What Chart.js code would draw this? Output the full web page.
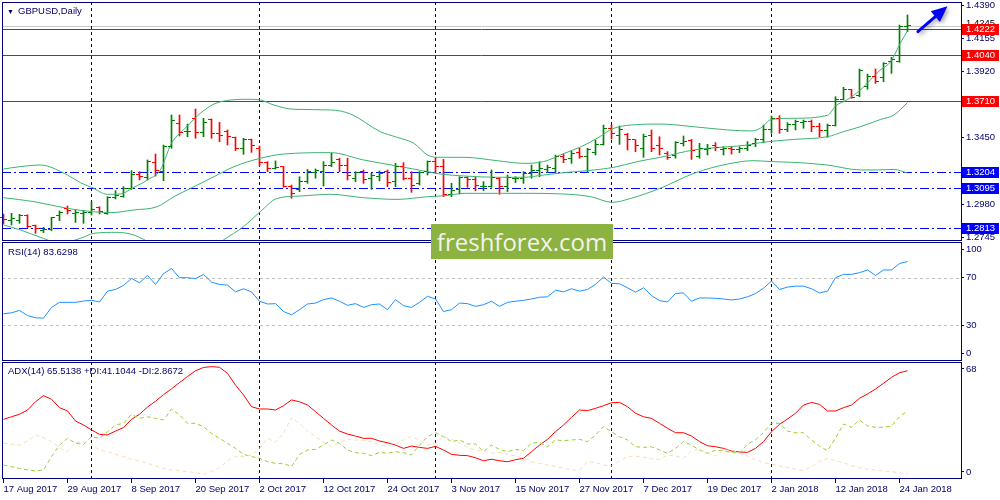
<!DOCTYPE html>
<html>
<head>
<meta charset="utf-8">
<script src="https://cdn.jsdelivr.net/npm/chart.js@4.4.0/dist/chart.umd.min.js"></script>
<style>
html, body { margin: 0; padding: 0; background: #fff; }
#wrap { position: relative; width: 1000px; height: 500px; overflow: hidden; background: #fff; }
#wrap canvas { position: absolute; left: 0; }
.lbl { position: absolute; font: 9.5px "Liberation Sans", Arial, sans-serif; color: #000070; white-space: nowrap; line-height: 11px; }
#wm { position: absolute; left: 431px; top: 224px; width: 182px; height: 35px; background: #8cb23f; color: #f2f2f2;
      font: 24px "Open Sans", sans-serif; text-align: center; line-height: 35px; }
</style>
</head>
<body>
<div id="wrap">
  <canvas id="main" width="1000" height="241" style="top:0"></canvas>
  <canvas id="rsi" width="1000" height="119" style="top:242px"></canvas>
  <canvas id="adx" width="1000" height="138" style="top:362px"></canvas>
  <div class="lbl" style="left:7px;top:6px;font-size:7px">&#9660;</div>
  <div class="lbl" style="left:18px;top:5px">GBPUSD,Daily</div>
  <div class="lbl" style="left:8px;top:246px">RSI(14) 83.6298</div>
  <div class="lbl" style="left:8px;top:365px">ADX(14) 65.5138 +DI:41.1044 -DI:2.8672</div>
  <div id="wm">freshforex.com</div>
</div>
<script>
'use strict';

// daily bars, 17 Aug 2017 .. 25 Jan 2018 (index 0..113)
const opens = [1.2886,1.2862,1.2862,1.2902,1.2824,1.2791,1.2796,1.2902,1.2945,1.2914,
  1.2914,1.2919,1.2957,1.2914,1.3028,1.3032,1.3092,1.3193,1.3170,1.3274,
  1.3210,1.3387,1.3553,1.3494,1.3584,1.3489,1.3577,1.3482,1.3494,1.3454,
  1.3376,1.3439,1.3373,1.3276,1.3234,1.3245,1.3108,1.3080,1.3139,1.3205,
  1.3210,1.3257,1.3297,1.3252,1.3163,1.3210,1.3158,1.3179,1.3210,1.3139,
  1.3245,1.3158,1.3127,1.3210,1.3281,1.3245,1.3049,1.3080,1.3167,1.3151,
  1.3103,1.3108,1.3163,1.3108,1.3158,1.3158,1.3198,1.3217,1.3226,1.3234,
  1.3316,1.3300,1.3345,1.3316,1.3345,1.3404,1.3518,1.3470,1.3475,1.3435,
  1.3376,1.3470,1.3399,1.3340,1.3328,1.3411,1.3430,1.3316,1.3369,1.3399,
  1.3364,1.3376,1.3364,1.3376,1.3411,1.3440,1.3511,1.3584,1.3506,1.3546,
  1.3558,1.3565,1.3534,1.3501,1.3541,1.3724,1.3790,1.3754,1.3818,1.3889,
  1.3880,1.3991,1.3993,1.4244];
const highs = [1.2909,1.2914,1.2907,1.2904,1.2831,1.2815,1.2886,1.2931,1.2966,1.2938,
  1.2931,1.2997,1.2961,1.3032,1.3075,1.3103,1.3217,1.3210,1.3293,1.3335,
  1.3399,1.3612,1.3612,1.3548,1.3655,1.3589,1.3584,1.3560,1.3506,1.3456,
  1.3447,1.3441,1.3392,1.3281,1.3286,1.3247,1.3115,1.3174,1.3226,1.3229,
  1.3281,1.3340,1.3305,1.3305,1.3210,1.3222,1.3198,1.3215,1.3222,1.3269,
  1.3274,1.3210,1.3210,1.3286,1.3312,1.3297,1.3127,1.3174,1.3174,1.3170,
  1.3139,1.3222,1.3167,1.3186,1.3174,1.3210,1.3257,1.3281,1.3257,1.3328,
  1.3335,1.3357,1.3376,1.3376,1.3435,1.3541,1.3541,1.3534,1.3482,1.3437,
  1.3477,1.3506,1.3458,1.3352,1.3423,1.3463,1.3439,1.3411,1.3404,1.3416,
  1.3387,1.3387,1.3387,1.3423,1.3447,1.3541,1.3605,1.3608,1.3558,1.3577,
  1.3577,1.3577,1.3553,1.3548,1.3742,1.3809,1.3795,1.3939,1.3903,1.3939,
  1.3984,1.4022,1.4251,1.4323];
const lows = [1.2838,1.2831,1.2843,1.2812,1.2772,1.2777,1.2791,1.2862,1.2909,1.2850,
  1.2843,1.2902,1.2909,1.2907,1.3016,1.3028,1.3084,1.3151,1.3151,1.3179,
  1.3146,1.3376,1.3463,1.3458,1.3447,1.3458,1.3447,1.3423,1.3399,1.3359,
  1.3333,1.3347,1.3250,1.3210,1.3229,1.3099,1.3021,1.3068,1.3127,1.3163,
  1.3108,1.3245,1.3210,1.3151,1.3139,1.3127,1.3084,1.3144,1.3103,1.3103,
  1.3151,1.3063,1.3115,1.3186,1.3198,1.3032,1.3032,1.3051,1.3099,1.3075,
  1.3075,1.3099,1.3049,1.3068,1.3132,1.3127,1.3163,1.3174,1.3203,1.3203,
  1.3274,1.3269,1.3305,1.3203,1.3328,1.3399,1.3442,1.3404,1.3364,1.3352,
  1.3312,1.3352,1.3328,1.3297,1.3305,1.3392,1.3297,1.3305,1.3328,1.3359,
  1.3328,1.3335,1.3345,1.3359,1.3387,1.3416,1.3482,1.3482,1.3494,1.3506,
  1.3518,1.3494,1.3458,1.3454,1.3534,1.3719,1.3731,1.3742,1.3795,1.3837,
  1.3849,1.3908,1.3987,1.4204];
const closes = [1.2867,1.2874,1.2897,1.2819,1.2808,1.2800,1.2881,1.2919,1.2933,1.2919,
  1.2923,1.2938,1.2926,1.3028,1.3040,1.3092,1.3193,1.3179,1.3281,1.3217,
  1.3387,1.3572,1.3489,1.3497,1.3489,1.3560,1.3482,1.3470,1.3458,1.3376,
  1.3435,1.3395,1.3276,1.3234,1.3238,1.3108,1.3056,1.3139,1.3210,1.3215,
  1.3252,1.3276,1.3252,1.3186,1.3205,1.3151,1.3186,1.3198,1.3132,1.3245,
  1.3158,1.3115,1.3203,1.3281,1.3245,1.3049,1.3075,1.3167,1.3151,1.3111,
  1.3108,1.3170,1.3103,1.3170,1.3163,1.3198,1.3217,1.3234,1.3238,1.3316,
  1.3297,1.3340,1.3316,1.3364,1.3404,1.3518,1.3482,1.3506,1.3435,1.3399,
  1.3463,1.3376,1.3376,1.3312,1.3416,1.3423,1.3359,1.3376,1.3376,1.3383,
  1.3376,1.3364,1.3371,1.3399,1.3435,1.3506,1.3584,1.3506,1.3548,1.3565,
  1.3565,1.3529,1.3501,1.3541,1.3721,1.3795,1.3735,1.3925,1.3889,1.3847,
  1.3979,1.4003,1.4244,1.4245];

// bollinger bands: [bar index, price]
const bbUpper = [[0,1.3229],[2,1.3245],[4.6,1.3257],[8,1.3186],[9.6,1.3132],[11,1.3099],[13,1.3049],[14.6,1.3051],
  [16.3,1.3099],[18,1.3151],[19.6,1.3222],[21,1.3411],[22.9,1.3529],[24.6,1.3624],[26.3,1.3690],[28.4,1.3719],
  [30.5,1.3724],[32.1,1.3719],[33.8,1.3683],[36.3,1.3653],[40.9,1.3648],[43.4,1.3619],[47.1,1.3494],[49.2,1.3454],
  [51.3,1.3411],[53,1.3328],[54.2,1.3312],[57.6,1.3312],[61.7,1.3288],[65,1.3269],[67.5,1.3281],[70.1,1.3340],
  [72.2,1.3387],[74.2,1.3447],[76.3,1.3518],[78.4,1.3541],[82.1,1.3548],[86.3,1.3529],[90.5,1.3506],[93.5,1.3499],
  [94.6,1.3518],[96,1.3581],[98.8,1.3589],[103,1.3610],[104,1.3676],[105.4,1.3719],[107.1,1.3790],[109.6,1.3932],
  [110.9,1.3991],[112.1,1.4122],[113,1.4210]];
const bbMiddle = [[0,1.3025],[3.8,1.2997],[8,1.2949],[11.1,1.2926],[13.4,1.2919],[16.3,1.2938],[19.2,1.2961],
  [21.3,1.3032],[23.8,1.3103],[26.3,1.3174],[28.8,1.3245],[32.1,1.3305],[35,1.3335],[40.9,1.3345],[45,1.3293],
  [49.2,1.3250],[53,1.3210],[54.6,1.3193],[57.6,1.3179],[61.7,1.3170],[65,1.3170],[67.5,1.3186],[70.1,1.3203],
  [73,1.3217],[76.3,1.3241],[79.2,1.3281],[82.1,1.3312],[86.3,1.3364],[90.5,1.3387],[93,1.3399],[94.6,1.3416],
  [98.8,1.3439],[103,1.3458],[105,1.3494],[107.1,1.3529],[109.6,1.3580],[111.3,1.3612],[113,1.3700]];
const bbLower = [[0,1.2831],[2.1,1.2796],[5,1.2736],[7,1.2700],[9.6,1.2736],[11.3,1.2772],[14.2,1.2779],[16.3,1.2760],
  [17.5,1.2729],[20,1.2660],[23,1.2620],[26,1.2660],[27.5,1.2725],[30,1.2819],[32.1,1.2926],[34.2,1.3020],
  [37.1,1.3037],[40.9,1.3049],[45,1.3025],[49.2,1.3013],[53,1.3032],[55.1,1.3039],[57.6,1.3056],[61.7,1.3056],
  [65,1.3056],[70.1,1.3051],[73.4,1.3032],[76.1,1.2992],[78.4,1.3020],[82.1,1.3092],[86.3,1.3198],[90.5,1.3264],
  [93.8,1.3288],[96,1.3281],[98.8,1.3276],[103,1.3257],[107.1,1.3222],[109.2,1.3222],[111.3,1.3226],[113,1.3200]];

const rsi = [39.7,40.5,42.5,38.2,36.3,36.0,45.0,49.3,49.3,49.3,50.4,51.0,49.6,58.7,60.1,63.5,69.4,65.7,72.0,64.3,
  73.4,77.7,70.0,70.0,69.2,72.8,66.3,64.3,63.8,58.1,60.7,58.1,50.2,47.9,48.2,41.6,38.8,43.1,47.9,48.7,51.6,
  53.0,50.2,46.8,48.2,45.0,47.3,47.9,43.1,51.6,46.5,45.0,49.3,54.4,52.1,41.6,43.1,48.7,48.2,45.9,47.3,
  50.2,45.9,49.3,50.2,51.0,52.1,53.6,53.9,59.5,58.1,60.7,58.7,60.1,64.3,70.6,65.2,64.9,61.5,57.8,61.5,55.0,50.7,
  49.6,56.7,57.2,50.2,53.0,53.0,52.7,52.1,51.3,52.1,53.9,56.7,61.2,67.2,60.1,62.1,62.9,62.9,60.7,57.2,
  58.7,70.0,72.8,72.8,74.2,76.5,71.9,76.5,76.5,81.9,83.6];
const adx = [36.0,37.6,39.1,41.7,46.7,50.4,48.2,43.1,41.1,35.0,32.6,29.6,26.9,26.6,28.9,31.0,36.0,39.1,43.5,47.0,
  51.0,54.5,58.3,62.0,65.5,67.5,68.0,67.6,63.9,56.8,50.8,43.7,42.3,42.3,41.7,44.3,47.8,46.7,44.7,40.7,36.6,
  32.6,28.9,27.1,25.9,24.5,24.5,22.9,21.8,20.4,18.4,19.8,19.0,18.4,19.6,17.4,14.8,14.2,14.0,12.7,10.9,
  11.8,10.9,10.3,11.5,12.4,16.4,20.4,23.9,28.5,32.6,37.2,41.7,41.3,42.7,44.3,46.1,46.3,43.7,39.7,37.6,36.6,33.6,
  30.6,27.9,27.9,25.9,22.5,20.0,19.4,18.4,16.8,16.2,16.0,18.4,22.5,28.5,33.0,36.2,39.7,44.7,46.3,45.1,
  41.1,41.1,43.1,44.7,48.8,51.4,54.4,57.9,61.5,64.3,65.5];
const plusDI = [8.3,7.3,6.3,5.3,4.7,5.3,13.4,20.4,24.5,21.5,20.8,25.5,24.5,28.5,32.6,33.6,39.1,36.6,37.6,36.6,
  35.6,42.3,38.7,33.6,33.6,31.6,27.5,24.5,21.5,18.4,14.8,13.4,12.4,10.3,9.3,9.3,7.3,14.8,17.4,17.8,20.4,
  23.5,21.5,17.4,15.8,15.4,14.0,16.0,15.4,16.4,15.8,14.4,20.4,25.5,27.9,25.5,22.5,23.5,21.1,21.1,16.4,
  20.4,17.8,16.4,17.8,17.0,21.5,22.1,19.4,23.5,23.1,23.5,23.9,22.5,26.5,31.6,28.5,25.5,23.5,19.4,19.0,19.4,17.4,
  15.4,18.4,22.5,20.4,17.4,15.4,17.4,16.8,16.0,15.4,21.1,23.5,28.1,33.6,33.6,28.9,27.9,27.9,23.5,19.8,
  17.0,24.5,33.2,31.2,35.6,32.0,31.2,31.2,32.0,37.6,41.1];
const minusDI = [21.5,21.0,20.4,22.9,26.5,24.9,22.5,18.8,16.4,22.1,22.5,20.8,17.4,16.4,14.8,13.4,11.8,10.8,9.3,7.7,
  6.3,5.3,4.7,4.3,3.7,2.7,4.3,6.7,10.8,13.4,13.4,14.4,18.4,24.5,22.1,27.5,37.0,33.6,28.9,25.5,22.5,
  19.4,22.1,23.9,23.5,23.1,22.5,20.4,19.8,21.1,23.5,25.5,23.5,20.4,21.5,25.5,23.9,21.8,19.0,17.4,17.0,
  15.4,16.0,14.8,13.8,12.4,10.3,9.3,8.3,7.3,6.3,5.3,5.3,10.3,9.9,8.3,7.7,10.9,13.4,13.8,13.0,12.0,11.7,
  14.4,13.8,12.4,17.0,17.8,15.8,13.8,17.4,17.4,15.4,13.8,11.3,9.7,8.9,7.7,6.9,5.7,4.9,7.3,10.3,
  12.4,10.9,9.7,7.9,6.7,5.7,5.3,4.7,4.3,3.6,2.9];

const dateTickIdx = [0,8,16,24,32,40,48,56,64,72,80,88,96,104,112];
const dateLabels = ['17 Aug 2017','29 Aug 2017','8 Sep 2017','20 Sep 2017','2 Oct 2017','12 Oct 2017','24 Oct 2017',
  '3 Nov 2017','15 Nov 2017','27 Nov 2017','7 Dec 2017','19 Dec 2017','2 Jan 2018','12 Jan 2018','24 Jan 2018'];
const monthStartIdx = [11,32,54,76,96];

const priceTicks = [1.4390,1.4155,1.3920,1.3685,1.3450,1.3215,1.2980,1.2745];
const redLevels = [1.4222,1.4040,1.3710];
const blueLevels = [1.3204,1.3095,1.2813];
const bidPrice = 1.4245;
const rsiTicks = [100,70,30,0];
const rsiLevels = [70,30];
const adxTicks = [68,0];
const arrowTail = [114.3,1.4205];
const arrowTip = [118.0,1.4385];

const UP = '#008000', DOWN = '#ff0000', NAVY = '#000080', TXT = '#000070';
const FONT = {family: 'Liberation Sans', size: 9.5};
const X_MIN = -0.1875, X_MAX = X_MIN + 959 / 8;

function pts(arr) { return arr.map((v, i) => ({x: i, y: v})); }
function pairs(arr) { return arr.map(p => ({x: p[0], y: p[1]})); }
function noPad(s) { s.paddingTop = 0; s.paddingBottom = 0; s.paddingLeft = 0; s.paddingRight = 0; }

// pane frame, horizontal levels and month separators
function panePlugin(levels) {
  return {
    id: 'pane',
    beforeDatasetsDraw(chart) {
      const {ctx, chartArea: a, scales: {x, y}} = chart;
      ctx.save();
      ctx.lineWidth = 1;
      levels.forEach(l => {
        const py = Math.round(y.getPixelForValue(l.value)) + 0.5;
        ctx.strokeStyle = l.stroke;
        ctx.setLineDash(l.dash || []);
        ctx.beginPath(); ctx.moveTo(a.left, py); ctx.lineTo(a.right, py); ctx.stroke();
      });
      ctx.strokeStyle = NAVY;
      ctx.setLineDash([3, 3]);
      monthStartIdx.forEach(i => {
        const px = Math.floor(x.getPixelForValue(i)) + 0.5;
        ctx.beginPath(); ctx.moveTo(px, a.top); ctx.lineTo(px, a.bottom); ctx.stroke();
      });
      ctx.restore();
    },
    afterDraw(chart) {
      const {ctx, chartArea: a} = chart;
      ctx.save();
      ctx.strokeStyle = NAVY; ctx.lineWidth = 1;
      ctx.strokeRect(a.left + 0.5, a.top + 0.5, a.right - a.left, a.bottom - a.top - 1);
      ctx.restore();
    }
  };
}

// open / close ticks of the bars, plus price tags and arrow
const pricePlugin = {
  id: 'price',
  afterDatasetsDraw(chart) {
    const {ctx, scales: {x, y}} = chart;
    ctx.save();
    opens.forEach((o, i) => {
      const px = Math.floor(x.getPixelForValue(i));
      ctx.fillStyle = closes[i] >= o ? UP : DOWN;
      ctx.fillRect(px - 3, Math.floor(y.getPixelForValue(o)), 3, 1);
      ctx.fillRect(px + 1, Math.floor(y.getPixelForValue(closes[i])), 3, 1);
    });
    ctx.restore();
  },
  afterDraw(chart) {
    const {ctx, chartArea: a, scales: {x, y}} = chart;
    ctx.save();
    ctx.font = '9.5px "Liberation Sans"';
    ctx.textBaseline = 'middle';
    ctx.fillStyle = '#000';
    ctx.fillText(bidPrice.toFixed(4), a.right + 5, Math.round(y.getPixelForValue(bidPrice)) - 3);
    const tag = (v, c) => {
      const py = Math.round(y.getPixelForValue(v));
      ctx.fillStyle = c;
      ctx.fillRect(a.right + 1, py - 5, 37, 11);
      ctx.fillStyle = '#fff';
      ctx.fillText(v.toFixed(4), a.right + 5, py + 0.5);
    };
    redLevels.forEach(v => tag(v, '#ff0000'));
    blueLevels.forEach(v => tag(v, '#0000ff'));

    const tx = x.getPixelForValue(arrowTail[0]), ty = y.getPixelForValue(arrowTail[1]);
    const hx = x.getPixelForValue(arrowTip[0]), hy = y.getPixelForValue(arrowTip[1]);
    const ang = Math.atan2(hy - ty, hx - tx);
    const L = 16, W = 7;
    const bx = hx - L * Math.cos(ang), by = hy - L * Math.sin(ang);
    ctx.shadowColor = 'rgba(0,0,0,0.35)'; ctx.shadowBlur = 4; ctx.shadowOffsetX = 2; ctx.shadowOffsetY = 2;
    ctx.strokeStyle = '#0000ff'; ctx.fillStyle = '#0000ff'; ctx.lineWidth = 3; ctx.lineCap = 'round';
    ctx.beginPath(); ctx.moveTo(tx, ty); ctx.lineTo(bx, by); ctx.stroke();
    ctx.beginPath();
    ctx.moveTo(hx, hy);
    ctx.lineTo(bx + W * Math.sin(ang), by - W * Math.cos(ang));
    ctx.lineTo(bx - W * Math.sin(ang), by + W * Math.cos(ang));
    ctx.closePath(); ctx.fill();
    ctx.restore();
  }
};

function baseOptions(yOpts, xOpts, top) {
  return {
    responsive: false, animation: false, events: [],
    layout: {autoPadding: false, padding: {left: 2, right: 0, top: top || 0, bottom: 0}},
    plugins: {legend: {display: false}, tooltip: {enabled: false}},
    scales: {
      x: Object.assign({type: 'linear', min: X_MIN, max: X_MAX, display: false, offset: false,
                        grid: {offset: false}}, xOpts || {}),
      y: Object.assign({
        position: 'right',
        afterFit(s) { s.width = 39; noPad(s); },
        ticks: {font: FONT, color: TXT, padding: 2, autoSkip: false},
        grid: {drawOnChartArea: false, tickLength: 3, color: NAVY},
        border: {display: false}
      }, yOpts)
    }
  };
}

const bandStyle = {type: 'line', borderColor: '#3cb371', borderWidth: 1, pointRadius: 0,
  cubicInterpolationMode: 'monotone', order: 1};

const mainLevels = [{value: bidPrice, stroke: '#c8c8c8'}]
  .concat(redLevels.map(v => ({value: v, stroke: '#ff0000'})))
  .concat(blueLevels.map(v => ({value: v, stroke: '#0000ff', dash: [9, 3, 2, 3]})));

new Chart(document.getElementById('main'), {
  type: 'line',
  data: {
    datasets: [
      Object.assign({data: pairs(bbUpper)}, bandStyle),
      Object.assign({data: pairs(bbMiddle)}, bandStyle),
      Object.assign({data: pairs(bbLower)}, bandStyle),
      {type: 'bar', order: 2, grouped: false, barThickness: 1, borderWidth: 0,
       data: highs.map((h, i) => ({x: i, y: [lows[i], h]})),
       backgroundColor: closes.map((c, i) => c >= opens[i] ? UP : DOWN)}
    ]
  },
  options: baseOptions({
    min: 1.4390 - 235.5 / 1408, max: 1.4390 + 3.5 / 1408,
    afterBuildTicks(s) { s.ticks = priceTicks.map(v => ({value: v})); },
    ticks: {font: FONT, color: TXT, padding: 2, autoSkip: false, callback: v => v.toFixed(4)}
  }, null, 2),
  plugins: [panePlugin(mainLevels), pricePlugin]
});

new Chart(document.getElementById('rsi'), {
  type: 'line',
  data: {datasets: [{data: pts(rsi), borderColor: '#1e90ff', borderWidth: 1, pointRadius: 0}]},
  options: baseOptions({
    min: 0, max: 100,
    afterBuildTicks(s) { s.ticks = rsiTicks.map(v => ({value: v === 100 ? 94 : v === 0 ? 6.5 : v})); },
    ticks: {font: FONT, color: TXT, padding: 2, autoSkip: false, callback: (v, k) => String(rsiTicks[k])}
  }, null, 0),
  plugins: [panePlugin(rsiLevels.map(v => ({value: v, stroke: '#c0c0c0', dash: [3, 3]})))]
});

new Chart(document.getElementById('adx'), {
  type: 'line',
  data: {
    datasets: [
      {data: pts(minusDI), borderColor: '#f5deb3', borderWidth: 1, pointRadius: 0, borderDash: [4, 3]},
      {data: pts(plusDI), borderColor: '#9acd32', borderWidth: 1, pointRadius: 0, borderDash: [4, 3]},
      {data: pts(adx), borderColor: '#ff0000', borderWidth: 1, pointRadius: 0}
    ]
  },
  options: baseOptions({
    min: -0.3 / 1.648, max: 116.7 / 1.648,
    afterBuildTicks(s) { s.ticks = adxTicks.map(v => ({value: v === 68 ? 66.6 : 4.1})); },
    ticks: {font: FONT, color: TXT, padding: 2, autoSkip: false, callback: (v, k) => String(adxTicks[k])}
  }, {
    display: true, position: 'bottom',
    afterBuildTicks(s) { s.ticks = dateTickIdx.map(v => ({value: v})); },
    afterFit(s) { s.height = 21; noPad(s); },
    ticks: {font: FONT, color: TXT, autoSkip: false, maxRotation: 0, align: 'start', padding: 1,
            callback: (v, k) => dateLabels[k]},
    grid: {drawOnChartArea: false, tickLength: 4, color: NAVY, offset: false},
    border: {display: false}
  }, 0),
  plugins: [panePlugin([])]
});
</script>
</body>
</html>
